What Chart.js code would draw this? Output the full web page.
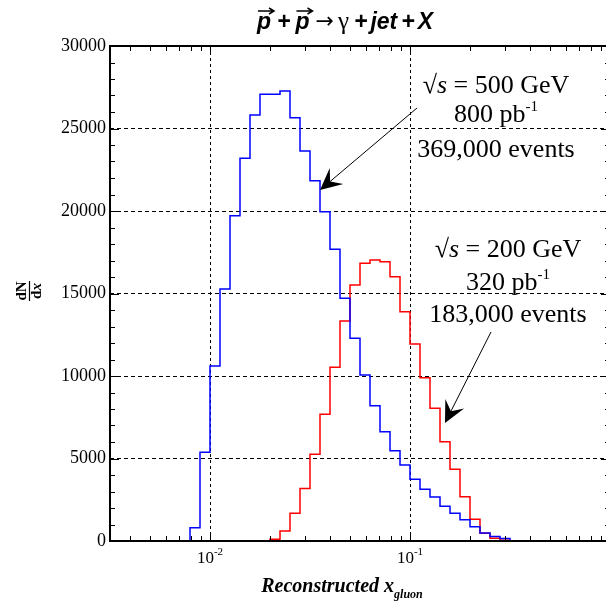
<!DOCTYPE html>
<html><head><meta charset="utf-8">
<script src="https://cdn.jsdelivr.net/npm/chart.js@4.4.1/dist/chart.umd.min.js"></script>
<style>
html,body{margin:0;padding:0;background:#fff;overflow:hidden;width:606px;height:603px}
#wrap{position:absolute;left:0;top:0;width:614px;height:603px}
</style>
</head><body><div id="wrap"><canvas id="c" width="614" height="603"></canvas></div>
<script>
// Histogram bin edges, given as log10(x_gluon)
const blueEdgesExp = [-2.10,-2.05,-2.00,-1.95,-1.90,-1.85,-1.80,-1.75,-1.70,-1.65,-1.60,-1.55,-1.50,-1.45,-1.40,-1.35,-1.30,-1.25,-1.20,-1.15,-1.10,-1.05,-1.00,-0.95,-0.90,-0.85,-0.80,-0.75,-0.70,-0.65,-0.60,-0.55,-0.50];
// sqrt(s) = 500 GeV
const blueCounts = [806,5374,10606,15273,19717,23192,25818,27071,27071,27273,25656,23636,21838,19960,17677,14707,12283,10060,8202,6626,5475,4606,3737,3131,2660,2100,1677,1290,869,485,280,150];
const redEdgesExp = [-1.70,-1.65,-1.60,-1.55,-1.50,-1.45,-1.40,-1.35,-1.30,-1.25,-1.20,-1.15,-1.10,-1.05,-1.00,-0.95,-0.90,-0.85,-0.80,-0.75,-0.70,-0.65,-0.60,-0.55,-0.50];
// sqrt(s) = 200 GeV
const redCounts = [100,600,1680,3180,5253,7677,10525,13333,15515,16828,17030,16930,16020,13900,11940,9900,8040,6020,4343,2687,1313,465,160,50];

const xMajorTicks = [0.01, 0.1];
const xTickLabels = [['10','-2'],['10','-1']];
const yTickStep = 5000;
const yMinorStep = 1000;
const xRange = [Math.pow(10,-2.5), 1];
const yRange = [0, 30000];

function histPoints(edgesExp, counts){
  const pts = [{x: Math.pow(10, edgesExp[0]), y: 0}];
  for (let i = 0; i < counts.length; i++) pts.push({x: Math.pow(10, edgesExp[i]), y: counts[i]});
  pts.push({x: Math.pow(10, edgesExp[edgesExp.length-1]), y: 0});
  return pts;
}

const SERIF = '"Liberation Serif", "Times New Roman", serif';
const SANS = '"Liberation Sans", Arial, sans-serif';

function drawSegs(ctx, segs, cx, base, align){
  let w = 0;
  segs.forEach(s => { if (s.gap) { w += s.gap; return; } ctx.font = s.f; s.w = ctx.measureText(s.t).width; w += s.w; });
  let xx = align === 'left' ? cx : cx - w/2;
  segs.forEach(s => {
    if (s.gap) { xx += s.gap; return; }
    ctx.font = s.f;
    ctx.fillText(s.t, xx, base + (s.dy||0));
    if (s.vec) {
      const x0 = xx + 1, x1 = xx + s.w + 3, yy = base - 18;
      ctx.beginPath(); ctx.moveTo(x0, yy); ctx.lineTo(x1, yy);
      ctx.moveTo(x1 - 5, yy - 3); ctx.lineTo(x1, yy); ctx.lineTo(x1 - 5, yy + 3);
      ctx.lineWidth = 1.5; ctx.stroke();
    }
    xx += s.w;
  });
}

function arrow(ctx, x, y, from, to){
  const tx = x.getPixelForValue(from[0]), ty = y.getPixelForValue(from[1]);
  const hx = x.getPixelForValue(to[0]), hy = y.getPixelForValue(to[1]);
  const dx = hx - tx, dy = hy - ty, L = Math.hypot(dx, dy), ux = dx/L, uy = dy/L;
  const len = 24, ang = 26 * Math.PI/180;
  ctx.beginPath(); ctx.moveTo(tx, ty); ctx.lineTo(hx - ux*10, hy - uy*10);
  ctx.lineWidth = 1; ctx.strokeStyle = '#000'; ctx.stroke();
  const c = Math.cos(ang), s = Math.sin(ang);
  const b1x = hx - len*(ux*c - uy*s), b1y = hy - len*(uy*c + ux*s);
  const b2x = hx - len*(ux*c + uy*s), b2y = hy - len*(uy*c - ux*s);
  const nx = hx - ux*len*0.55, ny = hy - uy*len*0.55;
  ctx.beginPath(); ctx.moveTo(hx, hy); ctx.lineTo(b1x, b1y); ctx.lineTo(nx, ny); ctx.lineTo(b2x, b2y); ctx.closePath();
  ctx.fillStyle = '#000'; ctx.fill();
}

const deco = {
  id: 'deco',
  afterDraw(chart){
    const {ctx, chartArea: a, scales: {x, y}} = chart;
    ctx.save();
    ctx.strokeStyle = '#000'; ctx.fillStyle = '#000'; ctx.lineWidth = 1;
    ctx.beginPath();
    for (let k = -3; k <= 0; k++) {
      for (let m = 1; m <= 9; m++) {
        const v = m * Math.pow(10, k);
        if (v < xRange[0] || v > xRange[1]) continue;
        const px = Math.round(x.getPixelForValue(v)) + 0.5;
        const len = m === 1 ? 9 : 5;
        ctx.moveTo(px, a.bottom); ctx.lineTo(px, a.bottom - len);
        ctx.moveTo(px, a.top); ctx.lineTo(px, a.top + len);
      }
    }
    for (let v = yRange[0]; v <= yRange[1]; v += yMinorStep) {
      const py = Math.round(y.getPixelForValue(v)) + 0.5;
      const len = v % yTickStep === 0 ? 9 : 5;
      ctx.moveTo(a.left, py); ctx.lineTo(a.left + len, py);
      ctx.moveTo(a.right, py); ctx.lineTo(a.right - len, py);
    }
    ctx.stroke();
    ctx.lineWidth = 2;
    ctx.strokeRect(a.left, a.top, a.right - a.left, a.bottom - a.top);

    ctx.textBaseline = 'alphabetic';
    xMajorTicks.forEach((v, i) => {
      const px = x.getPixelForValue(v);
      drawSegs(ctx, [{t: xTickLabels[i][0], f: '17px ' + SERIF}, {t: xTickLabels[i][1], f: '11px ' + SERIF, dy: -8}], px, 563);
    });

    // title
    const BI = 'bold italic 23px ' + SANS;
    drawSegs(ctx, [
      {t: 'p', f: BI, vec: true}, {gap: 6}, {t: '+', f: BI}, {gap: 5},
      {t: 'p', f: BI, vec: true}, {gap: 6}, {t: '\u2192', f: '22px "DejaVu Sans"', dy: -1}, {gap: 4},
      {t: '\u03b3', f: '25px ' + SERIF}, {gap: 5}, {t: '+', f: BI}, {gap: 3}, {t: 'jet', f: BI}, {gap: 4},
      {t: '+', f: BI}, {gap: 3}, {t: 'X', f: BI}
    ], 345, 29);

    drawSegs(ctx, [{t: 'Reconstructed x', f: 'bold italic 20px ' + SERIF}, {t: 'gluon', f: 'bold italic 12px ' + SERIF, dy: 6}], 342, 592);

    // y axis title (rotated fraction dN/dx)
    ctx.save();
    ctx.translate(29, 291);
    ctx.rotate(-Math.PI/2);
    ctx.textAlign = 'center';
    ctx.font = 'bold 15px ' + SERIF;
    ctx.fillText('dN', 0, -3);
    ctx.beginPath(); ctx.moveTo(-10, 0.5); ctx.lineTo(10, 0.5); ctx.lineWidth = 1.2; ctx.stroke();
    ctx.textAlign = 'left';
    ctx.font = 'bold 15px ' + SERIF; const wd = ctx.measureText('d').width;
    ctx.font = 'bold italic 15px ' + SERIF; const wx = ctx.measureText('x').width;
    ctx.font = 'bold 15px ' + SERIF; ctx.fillText('d', -(wd + wx)/2, 12);
    ctx.font = 'bold italic 15px ' + SERIF; ctx.fillText('x', -(wd + wx)/2 + wd, 12);
    ctx.restore();

    const R = '26px ' + SERIF, I = 'italic 26px ' + SERIF, S = '15px ' + SERIF;
    const c1 = x.getPixelForValue(0.2692), c2 = x.getPixelForValue(0.309);
    drawSegs(ctx, [{t: '\u221a', f: R}, {t: 's', f: I}, {t: ' = 500 GeV', f: R}], c1, y.getPixelForValue(27152));
    drawSegs(ctx, [{t: '800 pb', f: R}, {t: '-1', f: S, dy: -11}], c1, y.getPixelForValue(25394));
    drawSegs(ctx, [{t: '369,000 events', f: R}], c1, y.getPixelForValue(23273));
    drawSegs(ctx, [{t: '\u221a', f: R}, {t: 's', f: I}, {t: ' = 200 GeV', f: R}], c2, y.getPixelForValue(17212));
    drawSegs(ctx, [{t: '320 pb', f: R}, {t: '-1', f: S, dy: -11}], c2, y.getPixelForValue(15212));
    drawSegs(ctx, [{t: '183,000 events', f: R}], c2, y.getPixelForValue(13273));

    arrow(ctx, x, y, [0.1084, 26242], [0.0355, 21273]);
    arrow(ctx, x, y, [0.2541, 12667], [0.1496, 7152]);
    ctx.restore();
  }
};

new Chart(document.getElementById('c'), {
  type: 'line',
  data: {
    datasets: [
      {label: '500 GeV', data: histPoints(blueEdgesExp, blueCounts), borderColor: '#0000ff', borderWidth: 1.5, stepped: true, fill: false, pointRadius: 0},
      {label: '200 GeV', data: histPoints(redEdgesExp, redCounts), borderColor: '#ff0000', borderWidth: 1.5, stepped: true, fill: false, pointRadius: 0}
    ]
  },
  options: {
    responsive: false,
    animation: false,
    devicePixelRatio: 1,
    layout: {padding: {top: 46, right: 4, left: 0, bottom: 0}},
    plugins: {legend: {display: false}, tooltip: {enabled: false}, title: {display: false}},
    elements: {line: {tension: 0}},
    scales: {
      x: {
        type: 'logarithmic', min: xRange[0], max: xRange[1],
        afterBuildTicks: s => { s.ticks = xMajorTicks.map(v => ({value: v})); },
        afterFit: s => { s.height = 62; },
        ticks: {display: false},
        grid: {color: '#000', lineWidth: 1, drawTicks: false},
        border: {display: false, dash: [3, 3]}
      },
      y: {
        min: yRange[0], max: yRange[1],
        afterFit: s => { s.width = 110; },
        ticks: {stepSize: yTickStep, color: '#000', font: {family: SERIF, size: 18}, padding: 4, callback: v => String(v)},
        grid: {color: '#000', lineWidth: 1, drawTicks: false},
        border: {display: false, dash: [4, 3]}
      }
    }
  },
  plugins: [deco]
});
</script>
</body></html>
